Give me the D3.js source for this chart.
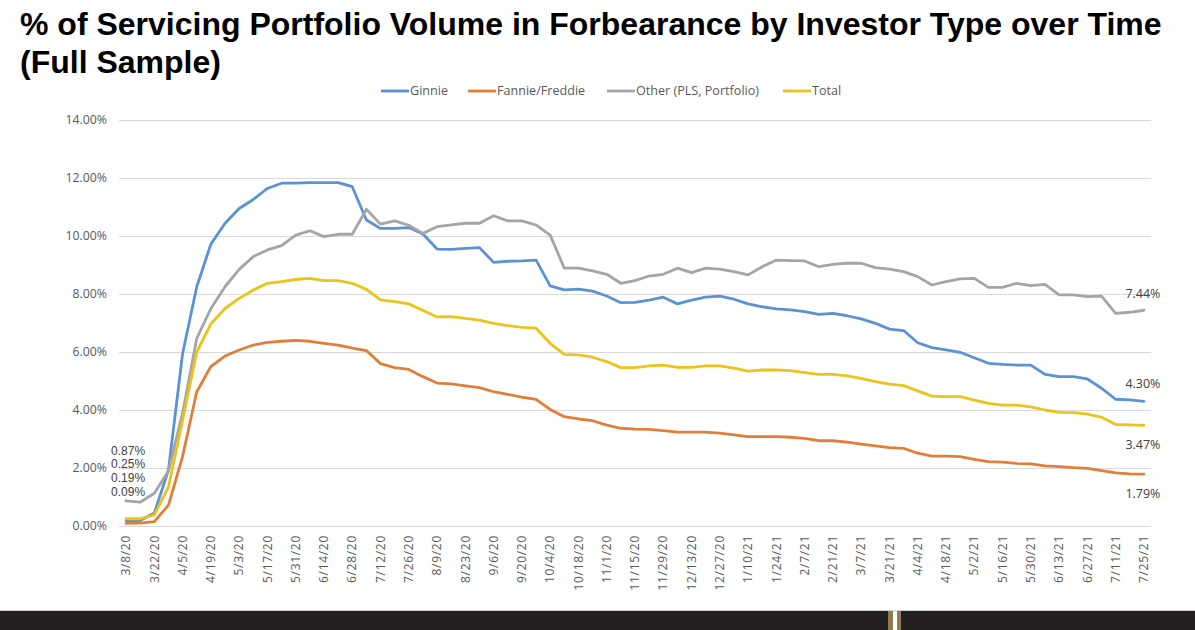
<!DOCTYPE html>
<html>
<head>
<meta charset="utf-8">
<script src="https://cdn.jsdelivr.net/npm/d3@7"></script>
<style>
  html, body { margin: 0; padding: 0; background: #fff; }
  svg { display: block; }
</style>
</head>
<body>
<svg id="chart" width="1195" height="630"></svg>
<script>
const categories = ["3/8/20","3/15/20","3/22/20","3/29/20","4/5/20","4/12/20","4/19/20","4/26/20","5/3/20","5/10/20","5/17/20","5/24/20","5/31/20","6/7/20","6/14/20","6/21/20","6/28/20","7/5/20","7/12/20","7/19/20","7/26/20","8/2/20","8/9/20","8/16/20","8/23/20","8/30/20","9/6/20","9/13/20","9/20/20","9/27/20","10/4/20","10/11/20","10/18/20","10/25/20","11/1/20","11/8/20","11/15/20","11/22/20","11/29/20","12/6/20","12/13/20","12/20/20","12/27/20","1/3/21","1/10/21","1/17/21","1/24/21","1/31/21","2/7/21","2/14/21","2/21/21","2/28/21","3/7/21","3/14/21","3/21/21","3/28/21","4/4/21","4/11/21","4/18/21","4/25/21","5/2/21","5/9/21","5/16/21","5/23/21","5/30/21","6/6/21","6/13/21","6/20/21","6/27/21","7/4/21","7/11/21","7/18/21","7/25/21"];

const tickLabels = ["3/8/20","3/22/20","4/5/20","4/19/20","5/3/20","5/17/20","5/31/20","6/14/20","6/28/20","7/12/20","7/26/20","8/9/20","8/23/20","9/6/20","9/20/20","10/4/20","10/18/20","11/1/20","11/15/20","11/29/20","12/13/20","12/27/20","1/10/21","1/24/21","2/7/21","2/21/21","3/7/21","3/21/21","4/4/21","4/18/21","5/2/21","5/16/21","5/30/21","6/13/21","6/27/21","7/11/21","7/25/21"];

const yTicks = [0, 2, 4, 6, 8, 10, 12, 14];

const ginnie = [0.19,0.19,0.45,1.93,5.95,8.25,9.72,10.44,10.95,11.26,11.64,11.82,11.82,11.84,11.84,11.84,11.70,10.55,10.26,10.26,10.29,10.07,9.55,9.54,9.57,9.60,9.09,9.13,9.14,9.17,8.28,8.14,8.17,8.10,7.93,7.70,7.71,7.79,7.89,7.66,7.79,7.89,7.93,7.82,7.66,7.56,7.49,7.45,7.39,7.30,7.33,7.25,7.14,6.99,6.79,6.74,6.32,6.15,6.07,5.99,5.80,5.61,5.57,5.55,5.55,5.23,5.15,5.15,5.07,4.75,4.37,4.35,4.30];

const fannieFreddie = [0.09,0.10,0.15,0.72,2.40,4.63,5.50,5.86,6.07,6.24,6.33,6.37,6.40,6.37,6.30,6.24,6.13,6.05,5.60,5.46,5.40,5.15,4.93,4.90,4.83,4.77,4.63,4.54,4.44,4.37,4.02,3.77,3.69,3.63,3.48,3.37,3.34,3.33,3.29,3.24,3.24,3.24,3.20,3.14,3.08,3.08,3.08,3.06,3.02,2.94,2.94,2.89,2.82,2.76,2.70,2.68,2.51,2.41,2.41,2.39,2.30,2.22,2.20,2.16,2.14,2.07,2.05,2.01,1.99,1.91,1.83,1.80,1.79];

const other = [0.87,0.82,1.13,1.90,3.90,6.47,7.50,8.25,8.85,9.29,9.52,9.67,10.03,10.18,9.98,10.06,10.06,10.92,10.41,10.52,10.37,10.09,10.32,10.38,10.44,10.44,10.70,10.52,10.52,10.38,10.03,8.89,8.89,8.80,8.68,8.37,8.46,8.62,8.68,8.89,8.74,8.89,8.86,8.77,8.66,8.94,9.17,9.15,9.14,8.94,9.02,9.06,9.06,8.91,8.86,8.77,8.60,8.31,8.43,8.52,8.54,8.23,8.23,8.37,8.29,8.33,7.97,7.97,7.91,7.93,7.33,7.37,7.44];

const total = [0.25,0.25,0.38,1.35,3.65,6.00,6.97,7.50,7.85,8.14,8.37,8.43,8.50,8.54,8.46,8.46,8.37,8.16,7.80,7.74,7.66,7.43,7.21,7.22,7.16,7.10,6.99,6.91,6.85,6.82,6.30,5.92,5.90,5.82,5.67,5.46,5.46,5.52,5.55,5.47,5.47,5.52,5.52,5.44,5.34,5.38,5.38,5.36,5.29,5.23,5.23,5.18,5.09,4.98,4.89,4.84,4.66,4.48,4.46,4.46,4.34,4.23,4.17,4.17,4.11,4.00,3.92,3.91,3.86,3.75,3.50,3.49,3.47];

const seriesNames = ["Ginnie", "Fannie/Freddie", "Other (PLS, Portfolio)", "Total"];
const seriesValues = [ginnie, fannieFreddie, other, total];
const seriesColors = ["#5b92d3", "#e07f3a", "#a5a5a5", "#ecc31a"];

const title1 = "% of Servicing Portfolio Volume in Forbearance by Investor Type over Time";
const title2 = "(Full Sample)";

// ---------- drawing ----------
const svg = d3.select("#chart");
const plot = { left: 119, right: 1151, top: 120, bottom: 526 };

const x = d3.scaleBand().domain(categories).range([plot.left, plot.right]);
const xc = d => x(d) + x.bandwidth() / 2;
const y = d3.scaleLinear().domain([0, 14]).range([plot.bottom, plot.top]);

const labelFont = "'Open Sans', 'Noto Sans', sans-serif";
const titleFont = "'Liberation Sans', Arial, sans-serif";

// title
svg.append("text").attr("x", 20).attr("y", 35)
  .attr("font-family", titleFont)
  .attr("font-weight", "bold").attr("font-size", 32).attr("fill", "#000")
  .text(title1);
svg.append("text").attr("x", 20).attr("y", 72.5)
  .attr("font-family", titleFont)
  .attr("font-weight", "bold").attr("font-size", 32).attr("fill", "#000")
  .text(title2);

// gridlines + y axis labels
const yAxis = d3.axisLeft(y).tickValues(yTicks)
  .tickSize(-(plot.right - plot.left))
  .tickPadding(12)
  .tickFormat(v => d3.format(".2%")(v / 100));
const gy = svg.append("g").attr("transform", `translate(${plot.left},0)`).call(yAxis);
gy.select(".domain").remove();
gy.selectAll(".tick line").attr("stroke", "#d9d9d9").attr("stroke-width", 1);
gy.selectAll(".tick text").attr("font-family", labelFont).attr("font-size", 12.3)
  .attr("fill", "#595959");

// x axis labels
const xAxis = d3.axisBottom(x).tickValues(tickLabels).tickSize(0).tickPadding(0);
const gx = svg.append("g").attr("transform", `translate(0,${plot.bottom})`).call(xAxis);
gx.select(".domain").remove();
gx.selectAll(".tick text")
  .attr("font-family", labelFont).attr("font-size", 12).attr("fill", "#595959")
  .attr("text-anchor", "end")
  .attr("dy", "0.35em")
  .attr("transform", "translate(0,9) rotate(-90)")
  .attr("x", 0).attr("y", 0)
  .attr("letter-spacing", "0.7px");

// lines
const line = d3.line().x((d, i) => xc(categories[i])).y(d => y(d));
seriesValues.forEach((vals, k) => {
  svg.append("path").datum(vals)
    .attr("fill", "none").attr("stroke", seriesColors[k])
    .attr("stroke-width", 2.8).attr("stroke-linejoin", "round").attr("stroke-linecap", "round")
    .attr("d", line);
});

// end labels
const last = categories.length - 1;
const endOffsets = [-13, 24, -12, 24]; // ginnie above, fannie below, other above, total below
seriesValues.forEach((vals, k) => {
  svg.append("text")
    .attr("x", xc(categories[last]) - 1)
    .attr("y", y(vals[last]) + endOffsets[k])
    .attr("text-anchor", "middle")
    .attr("font-family", labelFont).attr("font-size", 12.5).attr("fill", "#404040")
    .text(d3.format(".2%")(vals[last] / 100));
});

// start labels stacked above first point
const order = [2, 3, 0, 1];
const topY = y(other[0]) - 46;
const gaps = [0, 13.7, 27.4, 41.1];
order.forEach((k, j) => {
  svg.append("text")
    .attr("x", xc(categories[0]) + 2)
    .attr("y", topY + gaps[j])
    .attr("text-anchor", "middle")
    .attr("font-family", "'Liberation Sans', Arial, sans-serif")
    .attr("font-size", 12).attr("fill", "#404040")
    .text(d3.format(".2%")(seriesValues[k][0] / 100));
});

// legend
const legendX = [381, 468, 607, 783];
seriesNames.forEach((name, k) => {
  const g = svg.append("g").attr("transform", `translate(${legendX[k]},91)`);
  g.append("line").attr("x1", 0).attr("x2", 28).attr("y1", 0).attr("y2", 0)
    .attr("stroke", seriesColors[k]).attr("stroke-width", 2.8);
  g.append("text").attr("x", 29).attr("y", 0).attr("dy", "0.35em")
    .attr("font-family", labelFont).attr("font-size", 12.6).attr("fill", "#595959")
    .text(name);
});

// footer bar
svg.append("rect").attr("x", 0).attr("y", 610).attr("width", 1195).attr("height", 1).attr("fill", "#d0d0d0");
svg.append("rect").attr("x", 0).attr("y", 611).attr("width", 888).attr("height", 19).attr("fill", "#231f20");
svg.append("rect").attr("x", 901).attr("y", 611).attr("width", 294).attr("height", 19).attr("fill", "#231f20");
svg.append("rect").attr("x", 888).attr("y", 611).attr("width", 5).attr("height", 19).attr("fill", "#8d7a50");
svg.append("rect").attr("x", 897).attr("y", 611).attr("width", 4).attr("height", 19).attr("fill", "#8d7a50");
</script>
</body>
</html>
